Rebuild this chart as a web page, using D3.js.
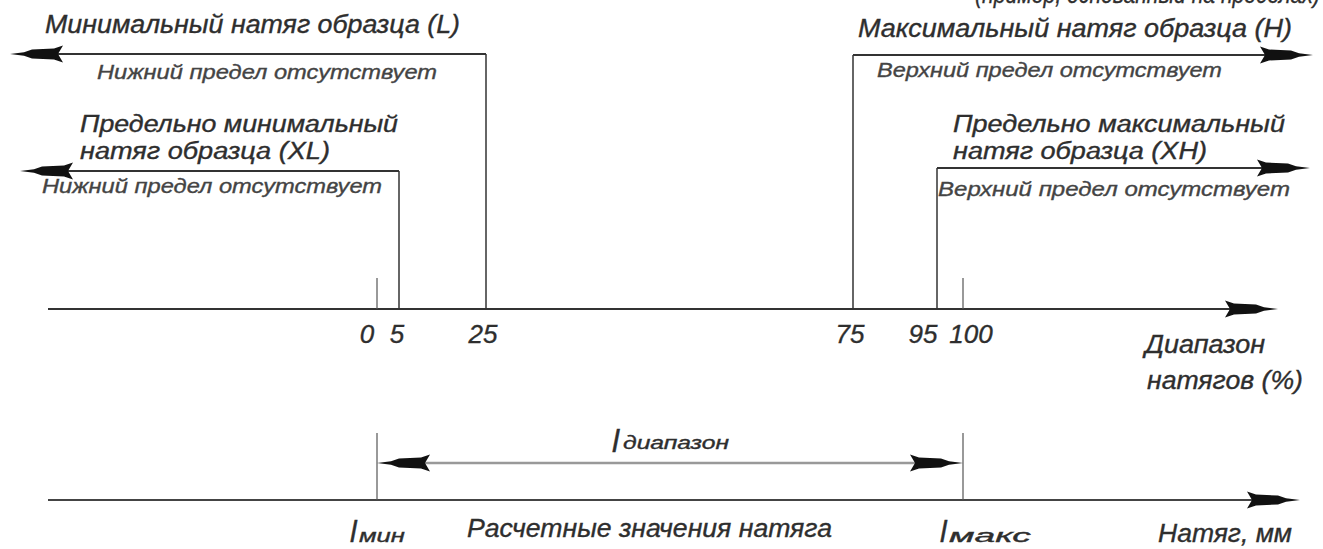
<!DOCTYPE html>
<html>
<head>
<meta charset="utf-8">
<script src="https://cdn.jsdelivr.net/npm/d3@7"></script>
<style>
  body { margin: 0; background: #fff; }
  text { font-family: 'Liberation Sans', Arial, sans-serif; font-style: italic; fill: #2e2e2e;
         stroke: #2e2e2e; stroke-width: 0.35; }
</style>
</head>
<body>
<div id="vis"></div>
<script>
// data
const TICKS = [0, 5, 25, 75, 95, 100];
const TICK_LABELS = ['0', '5', '25', '75', '95', '100'];
const LIMIT_VALUES = [25, 5, 75, 95];
const LIMIT_SIDES = ['low', 'low', 'high', 'high'];
const LIMIT_TITLES = [
    ['Минимальный натяг образца (L)'],
    ['Предельно минимальный', 'натяг образца (XL)'],
    ['Максимальный натяг образца (H)'],
    ['Предельно максимальный', 'натяг образца (XH)']
];
const LIMIT_NOTES = ['Нижний предел отсутствует', 'Нижний предел отсутствует',
                     'Верхний предел отсутствует', 'Верхний предел отсутствует'];
const RANGE_ENDS = [0, 100];

// setting up the basics
const FRAME_WIDTH = 1323;
const FRAME_HEIGHT = 549;
const AXIS_Y = 309;
const AXIS2_Y = 500;
const DIM_Y = 463;

const FRAME = d3.select('#vis')
    .append('svg')
        .attr('width', FRAME_WIDTH)
        .attr('height', FRAME_HEIGHT);

// schematic (not proportional) percent scale
const X_SCALE = d3.scaleLinear()
    .domain(TICKS)
    .range([377, 399, 486, 853, 937, 963]);

// dart shaped arrow head, tip at origin, pointing right
const DART = 'M0,0 L-14,-1.8 L-22,-4.5 L-44,-5.5 L-53,-8.5 L-48,0 L-53,8.5 L-44,5.5 L-22,4.5 L-14,1.8 Z';

function arrow(x, y, dir) {
    FRAME.append('path')
        .attr('d', DART)
        .attr('transform', 'translate(' + x + ',' + y + ') scale(' + dir + ',1)')
        .attr('fill', '#111');
}

function line(x1, y1, x2, y2, w, c) {
    FRAME.append('line')
        .attr('x1', x1).attr('y1', y1)
        .attr('x2', x2).attr('y2', y2)
        .attr('stroke', c || '#222')
        .attr('stroke-width', w || 1.5);
}

function label(str, x, y, size, len, anchor) {
    const t = FRAME.append('text')
        .attr('x', x).attr('y', y)
        .attr('font-size', size)
        .attr('text-anchor', anchor || 'start')
        .text(str);
    if (len) t.attr('textLength', len).attr('lengthAdjust', 'spacingAndGlyphs');
    return t;
}

// cut-off caption at the very top
label('(пример, основанный на пределах)', 975, 3, 26, 345);

// main percent axis
line(48, AXIS_Y, 1240, AXIS_Y, 1.8, '#333');
arrow(1278, AXIS_Y, 1);

// short ticks at 0 and 100
RANGE_ENDS.forEach((v) => {
    line(X_SCALE(v), 278, X_SCALE(v), AXIS_Y, 1.2, '#555');
});

// tick labels (shifted so that 95 and 100 don't collide)
const LABEL_SHIFT = {0: -10, 5: -2, 25: -3, 75: -3, 95: -14, 100: 8};
FRAME.selectAll('.ticklabel')
    .data(TICKS)
    .enter()
    .append('text')
    .attr('class', 'ticklabel')
    .attr('x', (d) => X_SCALE(d) + LABEL_SHIFT[d])
    .attr('y', 343)
    .attr('font-size', 26)
    .attr('text-anchor', 'middle')
    .text((d, i) => TICK_LABELS[i]);

label('Диапазон', 1145, 353, 25, 120);
label('натягов (%)', 1147, 389, 25, 156);

// limit brackets
const LEVEL_Y = [54, 171, 55, 168];
const TIP_X = [10, 20, 1313, 1310];
const TITLE_POS = [
    [[45, 33, 415, 25]],
    [[80, 132, 318, 23], [80, 159, 250, 23]],
    [[858, 37, 434, 25]],
    [[953, 132, 332, 23], [953, 159, 254, 23]]
];
const NOTE_POS = [[97, 79, 340], [42, 193, 340], [877, 77, 345], [938, 196, 352]];

LIMIT_VALUES.forEach((v, i) => {
    const x = X_SCALE(v);
    const y = LEVEL_Y[i];
    const dir = LIMIT_SIDES[i] === 'low' ? -1 : 1;
    line(x, y, x, AXIS_Y, 1.5, '#333');
    line(x, y, TIP_X[i] - dir * 40, y, 1.8, '#333');
    arrow(TIP_X[i], y, dir);
    LIMIT_TITLES[i].forEach((s, j) => {
        const p = TITLE_POS[i][j];
        label(s, p[0], p[1], p[3], p[2]);
    });
    const n = NOTE_POS[i];
    label(LIMIT_NOTES[i], n[0], n[1], 20, n[2]).style('fill', '#444').style('stroke', '#444');
});

// second axis: tension in mm
line(48, AXIS2_Y, 1260, AXIS2_Y, 1.8, '#444');
arrow(1300, AXIS2_Y, 1);

RANGE_ENDS.forEach((v) => {
    line(X_SCALE(v), 433, X_SCALE(v), AXIS2_Y, 1.2, '#555');
});

// dimension line between l_min and l_max
line(X_SCALE(0) + 30, DIM_Y, X_SCALE(100) - 30, DIM_Y, 2.5, '#999');
arrow(X_SCALE(0), DIM_Y, -1);
arrow(X_SCALE(100), DIM_Y, 1);

label('l', 612, 452, 32);
label('диапазон', 623, 449, 18, 106);

label('l', 350, 542, 30);
label('мин', 359, 542, 18, 46);
label('l', 940, 542, 30);
label('макс', 949, 542, 18, 82);
label('Расчетные значения натяга', 467, 537, 25, 365);
label('Натяг, мм', 1158, 542, 25, 134);
</script>
</body>
</html>
